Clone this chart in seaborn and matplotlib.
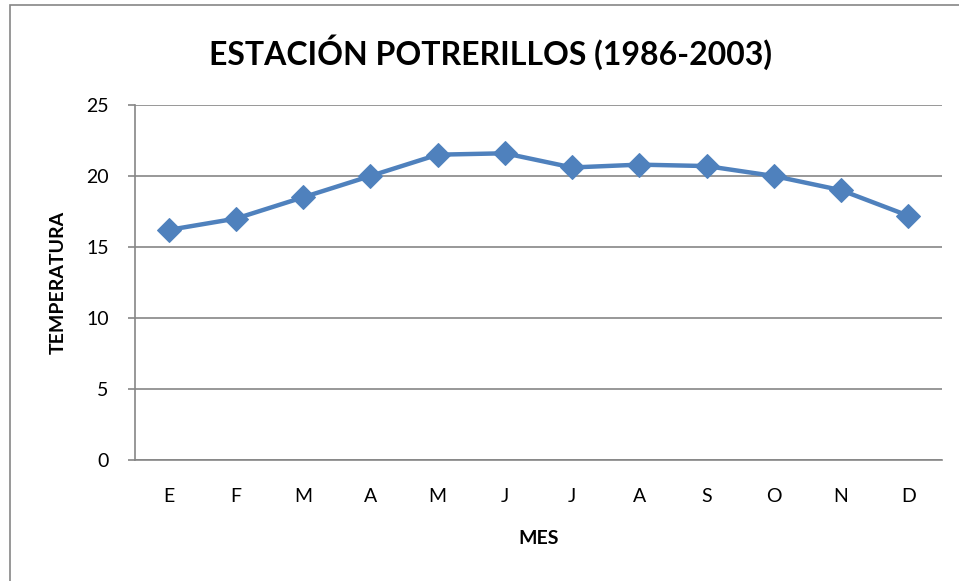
import pandas as pd
import numpy as np
import matplotlib.pyplot as plt
import seaborn as sns
from matplotlib.patches import Rectangle

# datos
meses = ["E", "F", "M", "A", "M", "J", "J", "A", "S", "O", "N", "D"]
temperatura = [16.2, 17.0, 18.5, 20.0, 21.5, 21.6, 20.6, 20.8, 20.7, 20.0, 19.0, 17.2]
y_ticks = [0, 5, 10, 15, 20, 25]

sns.set_style("white")
plt.rcParams['font.family'] = ['Lato', 'DejaVu Sans']
plt.rcParams['text.color'] = 'black'
plt.rcParams['axes.labelcolor'] = 'black'
plt.rcParams['xtick.color'] = 'black'
plt.rcParams['ytick.color'] = 'black'

df = pd.DataFrame({"pos": np.arange(len(meses)), "mes": meses, "temp": temperatura})

fig = plt.figure(figsize=(9.59, 5.81), dpi=100)
W, H = 959.0, 581.0
ax = fig.add_axes([135 / W, (H - 460) / H, (942 - 135) / W, 355 / H])

# marco exterior
fig.patches.append(Rectangle((10 / W, -0.1), 2, (H - 5) / H + 0.1,
                             transform=fig.transFigure, fill=False,
                             edgecolor="#868686", linewidth=1.2, zorder=0))

sns.lineplot(data=df, x="pos", y="temp", ax=ax, color="#4F81BD",
             linewidth=3.2, marker="D", markersize=12,
             markeredgecolor="#4F81BD", zorder=3)

ax.set_xlim(-0.5, len(meses) - 0.5)
ax.set_ylim(0, 25)
ax.set_xticks(df["pos"])
ax.set_xticklabels(meses, fontsize=14)
ax.set_yticks(y_ticks)
ax.set_yticklabels([str(t) for t in y_ticks], fontsize=14)
ax.tick_params(axis="x", length=0, pad=20, colors="black")
ax.tick_params(axis="y", length=5, width=1.2, color="#868686", labelcolor="black",
               pad=14, left=True)

ax.yaxis.grid(True, color="#868686", linewidth=1.2)
for s in ["top", "right"]:
    ax.spines[s].set_visible(False)
for s in ["left", "bottom"]:
    ax.spines[s].set_color("#868686")
    ax.spines[s].set_linewidth(1.2)

ax.set_xlabel("MES", fontsize=14, fontweight="bold", labelpad=18)
ax.set_ylabel("TEMPERATURA", fontsize=14, fontweight="bold", labelpad=14)
fig.text(490 / W, 1 - 52 / H, "ESTACIÓN POTRERILLOS (1986-2003)",
         ha="center", va="center", fontsize=23, fontweight="bold", color="black")

fig.savefig("out.png", dpi=100)
